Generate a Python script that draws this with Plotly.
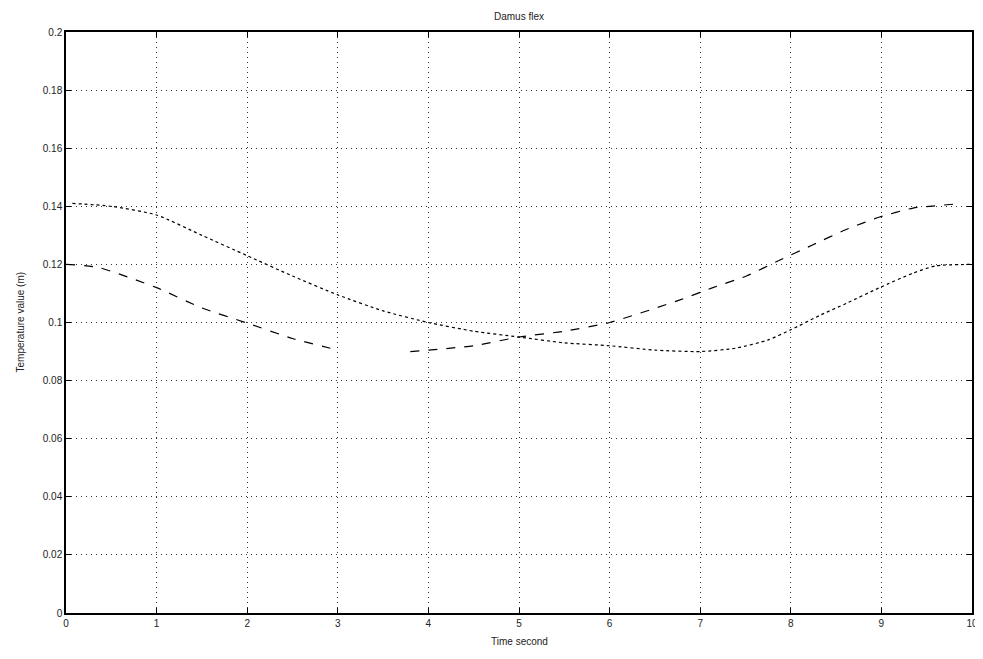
import plotly.graph_objects as go

# Curve A (dotted): starts high, dips near x=7, rises to 0.12
xa = [0.07, 0.5, 1.0, 1.5, 2.0, 2.5, 3.0, 3.5, 4.0, 4.5, 5.0, 5.5, 6.0, 6.5, 7.0, 7.4, 7.75, 8.0, 8.33, 8.62, 8.98, 9.35, 9.6, 10.0]
ya = [0.141, 0.140, 0.137, 0.130, 0.123, 0.116, 0.1095, 0.104, 0.100, 0.097, 0.095, 0.093, 0.092, 0.0905, 0.090, 0.0912, 0.094, 0.0975, 0.1026, 0.1067, 0.112, 0.117, 0.1195, 0.120]

# Curve B (dashed): starts at 0.12, dips to 0.09 near x=3, gap, rises to 0.14
xb = [0.0, 0.35, 1.0, 1.5, 2.0, 2.5, 3.0, None, 3.8, 4.5, 5.0, 5.5, 6.0, 6.77, 7.14, 7.51, 7.88, 8.24, 8.61, 8.98, 9.35, 9.53, 9.83]
yb = [0.120, 0.119, 0.112, 0.105, 0.0998, 0.0945, 0.0905, None, 0.090, 0.092, 0.095, 0.097, 0.100, 0.1077, 0.112, 0.116, 0.1215, 0.1267, 0.132, 0.1363, 0.1394, 0.140, 0.1408]

x_ticks = [0, 1, 2, 3, 4, 5, 6, 7, 8, 9, 10]
x_ticktext = ["0", "1", "2", "3", "4", "5", "6", "7", "8", "9", "10"]
y_ticks = [0, 0.02, 0.04, 0.06, 0.08, 0.1, 0.12, 0.14, 0.16, 0.18, 0.2]
y_ticktext = ["0", "0.02", "0.04", "0.06", "0.08", "0.1", "0.12", "0.14", "0.16", "0.18", "0.2"]

title_text = "Damus flex"
x_label = "Time second"
y_label = "Temperature value (m)"

fig = go.Figure()
fig.add_trace(go.Scatter(x=xa, y=ya, mode="lines", line=dict(color="black", width=1.2, dash="dot", shape="spline", smoothing=0.6),
                         showlegend=False, connectgaps=False))
fig.add_trace(go.Scatter(x=xb, y=yb, mode="lines", line=dict(color="black", width=1.2, dash="dash", shape="spline", smoothing=0.6),
                         showlegend=False, connectgaps=False))

font = dict(family="Liberation Sans, Arial", size=10, color="#222")
axis_common = dict(
    showline=True, linecolor="black", linewidth=1.5, mirror="allticks",
    ticks="inside", ticklen=5, tickcolor="black",
    showgrid=True, gridcolor="rgba(0,0,0,0.8)", griddash="1px,4px", gridwidth=1,
    zeroline=False, tickfont=font, automargin=False,
)

# page body has an 8px default margin, so the figure is sized to fit inside the window
fig.update_layout(
    width=975, height=651,
    paper_bgcolor="white", plot_bgcolor="white",
    margin=dict(l=58, r=11, t=24, b=46),
    title=dict(text=title_text, x=0.5, xref="paper", xanchor="center", y=1 - 8 / 651, yanchor="middle", font=font),
    xaxis=dict(range=[0, 10], tickvals=x_ticks, ticktext=x_ticktext, **axis_common),
    yaxis=dict(range=[0, 0.2], tickvals=y_ticks, ticktext=y_ticktext, **axis_common),
    annotations=[
        dict(text=x_label, xref="paper", yref="paper", x=0.5, y=0, yshift=-28, xanchor="center", yanchor="middle",
             showarrow=False, font=font),
        dict(text=y_label, xref="paper", yref="paper", x=0, y=0.5, xshift=-46, xanchor="center", yanchor="middle",
             textangle=-90, showarrow=False, font=font),
    ],
)

fig.write_html("out.html")
